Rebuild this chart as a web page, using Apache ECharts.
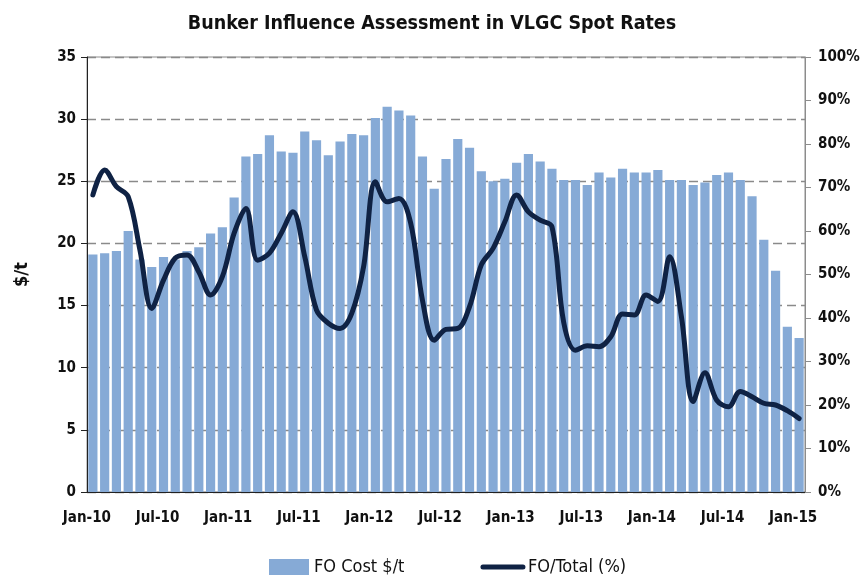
<!DOCTYPE html>
<html lang="en">
<head>
    <meta charset="UTF-8">
    <title>Bunker Influence Assessment in VLGC Spot Rates</title>
    <script src="https://cdn.jsdelivr.net/npm/echarts@6/dist/echarts.min.js"></script>
    <style type="text/css">
        *{
            padding: 0px;
            margin: 0px;
            border: 0px;
        }
        #chart{
            width: 864px;
            height: 578px;
        }
    </style>
</head>
<body>
<div id="chart"></div>
<script>
    // months Jan-10 .. Jan-15
    var months = [
        'Jan-10','Feb-10','Mar-10','Apr-10','May-10','Jun-10','Jul-10','Aug-10','Sep-10','Oct-10','Nov-10','Dec-10',
        'Jan-11','Feb-11','Mar-11','Apr-11','May-11','Jun-11','Jul-11','Aug-11','Sep-11','Oct-11','Nov-11','Dec-11',
        'Jan-12','Feb-12','Mar-12','Apr-12','May-12','Jun-12','Jul-12','Aug-12','Sep-12','Oct-12','Nov-12','Dec-12',
        'Jan-13','Feb-13','Mar-13','Apr-13','May-13','Jun-13','Jul-13','Aug-13','Sep-13','Oct-13','Nov-13','Dec-13',
        'Jan-14','Feb-14','Mar-14','Apr-14','May-14','Jun-14','Jul-14','Aug-14','Sep-14','Oct-14','Nov-14','Dec-14',
        'Jan-15'
    ];

    // FO Cost $/t
    var foCost = [
        19.1, 19.2, 19.4, 21.0, 18.7, 18.1, 18.9, 18.7, 19.4, 19.7, 20.8, 21.3,
        23.7, 27.0, 27.2, 28.7, 27.4, 27.3, 29.0, 28.3, 27.1, 28.2, 28.8, 28.7,
        30.1, 31.0, 30.7, 30.3, 27.0, 24.4, 26.8, 28.4, 27.7, 25.8, 25.0, 25.2,
        26.5, 27.2, 26.6, 26.0, 25.1, 25.1, 24.7, 25.7, 25.3, 26.0, 25.7, 25.7,
        25.9, 25.1, 25.1, 24.7, 24.9, 25.5, 25.7, 25.1, 23.8, 20.3, 17.8, 13.3,
        12.4
    ];

    // FO/Total (%)
    var foShare = [
        68.3, 74.0, 70.2, 67.9, 55.6, 42.2, 48.7, 53.8, 54.5, 50.6, 45.3, 49.5,
        59.5, 65.2, 53.3, 54.9, 59.5, 64.4, 54.1, 41.8, 38.8, 37.6, 41.1, 51.8,
        71.3, 66.7, 67.5, 61.8, 44.1, 34.9, 37.4, 37.6, 42.6, 52.2, 56.0, 62.1,
        68.3, 64.4, 62.5, 61.0, 39.0, 32.6, 33.6, 33.4, 35.7, 40.9, 40.7, 45.3,
        43.8, 54.1, 40.3, 20.8, 27.4, 21.1, 19.6, 23.1, 21.9, 20.4, 20.0, 18.7,
        16.9
    ];

    var font = "'Liberation Sans Narrow', 'DejaVu Sans Condensed', sans-serif";

    var chart = echarts.init(document.getElementById('chart'));
    var option = {
        backgroundColor: '#fff',
        animation: false,
        textStyle: { fontFamily: font },
        title: {
            text: 'Bunker Influence Assessment in VLGC Spot Rates',
            left: 'center',
            top: 9,
            textStyle: { fontFamily: font, fontSize: 19.5, fontWeight: 'bold', color: '#111' }
        },
        grid: {
            left: 87,
            right: 59,
            top: 57,
            bottom: 86,
            show: true,
            borderColor: '#8c8c8c',
            borderWidth: 1
        },
        legend: {
            bottom: -3,
            left: 264,
            itemGap: 76,
            itemWidth: 40,
            itemHeight: 16,
            textStyle: { fontFamily: font, fontSize: 18, color: '#111' },
            data: [
                { name: 'FO Cost $/t', icon: 'rect' },
                {
                    name: 'FO/Total (%)',
                    lineStyle: { width: 5, color: '#0f2244', cap: 'round' },
                    itemStyle: { color: 'rgba(0,0,0,0)', borderColor: 'rgba(0,0,0,0)', borderWidth: 0 }
                }
            ]
        },
        xAxis: {
            type: 'category',
            data: months,
            boundaryGap: true,
            axisLine: { lineStyle: { color: '#222', width: 1 } },
            axisTick: { interval: 5, length: 6, lineStyle: { color: '#222' } },
            axisLabel: {
                interval: 5,
                margin: 19,
                padding: [0, 12, 0, 0],
                fontFamily: font,
                fontSize: 15,
                fontWeight: 'bold',
                color: '#111'
            }
        },
        yAxis: [
            {
                type: 'value',
                min: 0,
                max: 35,
                interval: 5,
                name: '$/t',
                nameLocation: 'middle',
                nameGap: 56,
                nameTextStyle: { fontFamily: font, fontSize: 18, fontWeight: 'bold', color: '#111' },
                axisLine: { show: true, lineStyle: { color: '#222' } },
                axisTick: { show: true, length: 6, lineStyle: { color: '#222' } },
                axisLabel: { margin: 11, fontFamily: font, fontSize: 15, fontWeight: 'bold', color: '#111' },
                splitLine: { show: true, lineStyle: { color: '#8a8a8a', type: [9, 5], width: 1.3 } }
            },
            {
                type: 'value',
                min: 0,
                max: 100,
                interval: 10,
                position: 'right',
                axisLine: { show: true, lineStyle: { color: '#8c8c8c' } },
                axisTick: { show: true, length: 6, lineStyle: { color: '#8c8c8c' } },
                axisLabel: {
                    margin: 13,
                    formatter: '{value}%',
                    fontFamily: font,
                    fontSize: 15,
                    fontWeight: 'bold',
                    color: '#111'
                },
                splitLine: { show: false }
            }
        ],
        series: [
            {
                name: 'FO Cost $/t',
                type: 'bar',
                data: foCost,
                barCategoryGap: '22%',
                itemStyle: { color: '#86aad6' }
            },
            {
                name: 'FO/Total (%)',
                type: 'line',
                yAxisIndex: 1,
                data: foShare,
                smooth: 0.35,
                symbol: 'none',
                lineStyle: { color: '#0f2244', width: 5, cap: 'round' },
                itemStyle: { color: '#0f2244' }
            }
        ]
    };
    chart.setOption(option);
</script>
</body>
</html>
